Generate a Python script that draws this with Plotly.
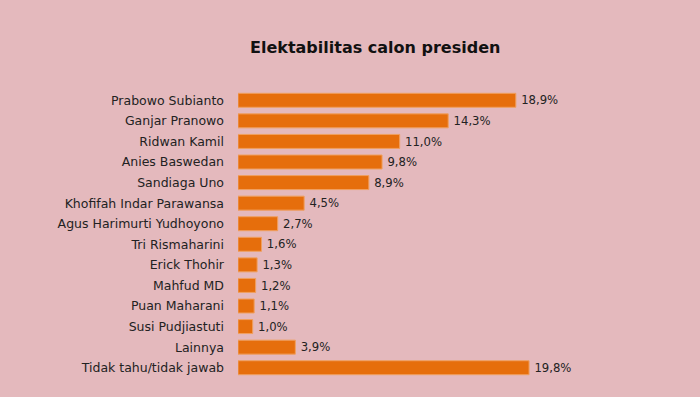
import plotly.graph_objects as go

categories = ["Prabowo Subianto", "Ganjar Pranowo", "Ridwan Kamil", "Anies Baswedan",
              "Sandiaga Uno", "Khofifah Indar Parawansa", "Agus Harimurti Yudhoyono",
              "Tri Rismaharini", "Erick Thohir", "Mahfud MD", "Puan Maharani",
              "Susi Pudjiastuti", "Lainnya", "Tidak tahu/tidak jawab"]
values = [18.9, 14.3, 11.0, 9.8, 8.9, 4.5, 2.7, 1.6, 1.3, 1.2, 1.1, 1.0, 3.9, 19.8]
labels = ["\u2009" + f"{v:.1f}%".replace(".", ",") for v in values]

bg = "#e4b9bd"
fig = go.Figure(go.Bar(
    x=values, y=categories, orientation="h",
    marker=dict(color="#e66e0c", line=dict(color="#f0a060", width=1)),
    text=labels, textposition="outside", cliponaxis=False,
    textfont=dict(family="DejaVu Sans", size=12.5, color="#222222"),
))
fig.update_layout(
    width=700, height=397,
    paper_bgcolor=bg, plot_bgcolor=bg,
    margin=dict(l=238, r=21, t=90, b=19),
    bargap=0.32,
    showlegend=False,
    font=dict(family="DejaVu Sans", size=12.5, color="#222222"),
    title=dict(text="<b>Elektabilitas calon presiden</b>", x=0.536, xanchor="center",
               y=1 - 47 / 397, yanchor="middle",
               font=dict(family="DejaVu Sans", size=16, color="#111111")),
    xaxis=dict(range=[0, 30], visible=False),
    yaxis=dict(autorange="reversed", showgrid=False, zeroline=False, showline=False,
               ticks="", ticklabelstandoff=13,
               tickfont=dict(family="DejaVu Sans", size=12.5, color="#222222")),
)
fig.write_html("out.html", config={"displayModeBar": False},
               post_script="document.body.style.margin='0';document.body.style.background='" + bg + "';")
